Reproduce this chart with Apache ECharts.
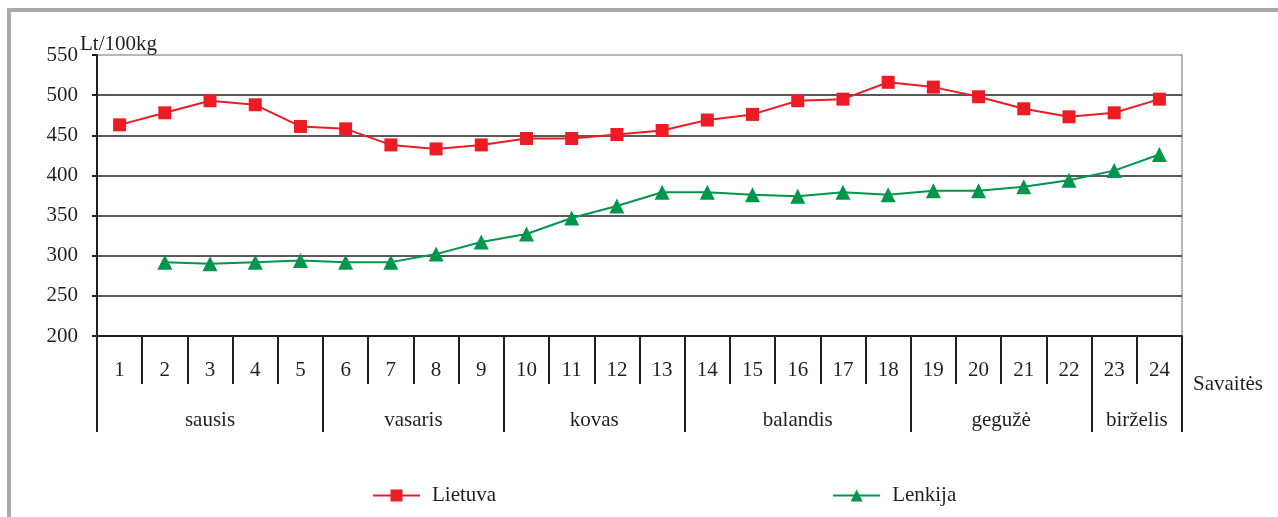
<!DOCTYPE html>
<html>
<head>
<meta charset="utf-8">
<script src="https://cdn.jsdelivr.net/npm/echarts@6/dist/echarts.min.js"></script>
<style>
html,body{margin:0;padding:0;background:#fff;}
#frame{position:absolute;left:7px;top:8px;width:1271px;height:509px;border-left:4px solid #a9a9a9;border-top:4px solid #a9a9a9;box-sizing:border-box;}
#chart{position:absolute;left:0;top:0;width:1278px;height:517px;}
</style>
</head>
<body>
<div id="frame"></div>
<div id="chart"></div>
<script>
const weeks = ['1','2','3','4','5','6','7','8','9','10','11','12','13','14','15','16','17','18','19','20','21','22','23','24'];
const lietuva = [463, 478, 493, 488, 461, 458, 438, 433, 438, 446, 446, 451, 456, 469, 476, 493, 495, 516, 510, 498, 483, 473, 478, 495];
const lenkija = [null, 292, 290, 292, 294, 292, 292, 302, 317, 327, 347, 362, 379, 379, 376, 374, 379, 376, 381, 381, 386, 394, 406, 426];
const monthNames = ['sausis','vasaris','kovas','balandis','gegužė','birželis'];
const monthBounds = [0, 5, 9, 13, 18, 22, 24];
const yTicks = [200, 250, 300, 350, 400, 450, 500, 550];

const monthCenters = monthNames.map((m, i) => (monthBounds[i] + monthBounds[i + 1]) / 2);
const FONT = "'Liberation Serif', 'Times New Roman', serif";
const FS = 21;
const DARK = '#231f20';

const chart = echarts.init(document.getElementById('chart'), null, {renderer: 'canvas'});
chart.setOption({
  backgroundColor: 'transparent',
  animation: false,
  textStyle: {fontFamily: FONT, color: DARK},
  title: {
    text: 'Lt/100kg', left: 80, top: 34, padding: 0,
    textStyle: {fontFamily: FONT, fontSize: FS, fontWeight: 'normal', color: DARK}
  },
  legend: {
    left: 372, top: 485, padding: 0,
    itemWidth: 47, itemHeight: 15, itemGap: 336,
    textStyle: {fontFamily: FONT, fontSize: FS, color: DARK, padding: [0, 0, 0, 7]},
    data: ['Lietuva', 'Lenkija']
  },
  grid: {
    left: 97, right: 96, top: 55, bottom: 181,
    show: true, borderColor: '#a0a0a0', borderWidth: 1.5, backgroundColor: 'transparent'
  },
  xAxis: [
    {
      type: 'category', data: weeks, boundaryGap: true,
      axisLine: {show: true, lineStyle: {color: DARK, width: 2}},
      axisTick: {show: true, interval: 0, length: 48, lineStyle: {color: DARK, width: 2}},
      axisLabel: {interval: 0, margin: 24, fontFamily: FONT, fontSize: FS, color: DARK},
      splitLine: {show: false}
    },
    {
      type: 'value', min: 0, max: 24, position: 'bottom', offset: 48,
      name: 'Savaitės', nameLocation: 'end', nameGap: 11,
      nameTextStyle: {fontFamily: FONT, fontSize: FS, color: DARK, padding: [26, 0, 0, 0]},
      axisLine: {show: false},
      axisTick: {show: true, customValues: monthBounds, length: 48, lineStyle: {color: DARK, width: 2}},
      axisLabel: {
        customValues: monthCenters, margin: 26, fontFamily: FONT, fontSize: FS, color: DARK,
        formatter: v => monthNames[monthCenters.indexOf(v)] || ''
      },
      splitLine: {show: false}
    }
  ],
  yAxis: {
    type: 'value', min: yTicks[0], max: yTicks[yTicks.length - 1], interval: 50,
    axisLine: {show: true, lineStyle: {color: DARK, width: 2}},
    axisTick: {show: true, length: 5, lineStyle: {color: DARK, width: 2}},
    axisLabel: {margin: 19, fontFamily: FONT, fontSize: FS, color: DARK},
    splitLine: {show: true, showMaxLine: false, lineStyle: {color: DARK, width: 1.5}}
  },
  series: [
    {
      name: 'Lietuva', type: 'line', data: lietuva,
      symbol: 'rect', symbolSize: 13,
      lineStyle: {color: '#ed1c24', width: 2},
      itemStyle: {color: '#ed1c24'}
    },
    {
      name: 'Lenkija', type: 'line', data: lenkija,
      symbol: 'triangle', symbolSize: 15,
      lineStyle: {color: '#00964b', width: 2},
      itemStyle: {color: '#00964b'}
    }
  ]
});
</script>
</body>
</html>
